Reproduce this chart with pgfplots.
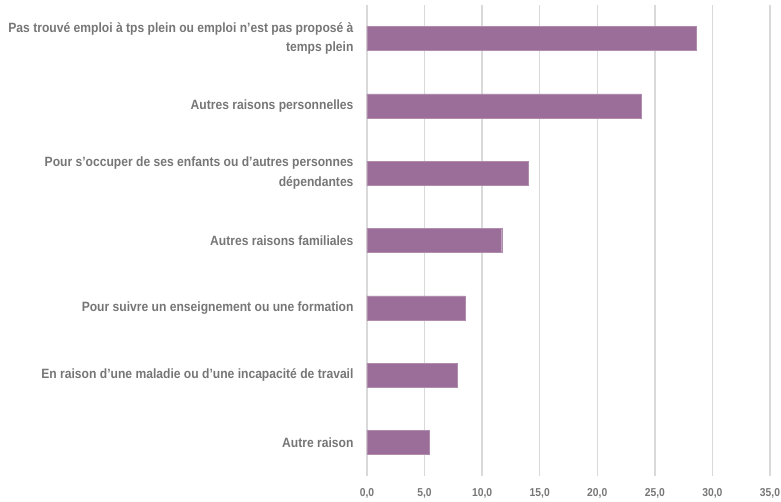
\documentclass[border=0pt]{standalone}
\usepackage{fontspec}
\setmainfont{Liberation Sans}[FakeStretch=0.9, BoldFont={Liberation Sans Bold}, BoldFeatures={FakeStretch=0.9}]
\usepackage{pgfplots}
\pgfplotsset{compat=1.18}
\definecolor{barpurple}{RGB}{155,110,153}
\definecolor{gridgray}{RGB}{217,217,217}
\definecolor{labelgray}{RGB}{118,118,118}
\begin{document}
\begin{tikzpicture}
\begin{axis}[
    at={(0,0)}, anchor=south west,
    scale only axis,
    width=403bp, height=471bp,
    xbar, bar width=24bp,
    xmin=0, xmax=35,
    ymin=-0.5, ymax=6.5,
    y dir=reverse,
    xtick={0,5,...,35},
    ytick={0,...,6},
    yticklabels={
        {Pas trouvé emploi à tps plein ou emploi n’est pas proposé à\\temps plein},
        {Autres raisons personnelles},
        {Pour s’occuper de ses enfants ou d’autres personnes\\dépendantes},
        {Autres raisons familiales},
        {Pour suivre un enseignement ou une formation},
        {En raison d’une maladie ou d’une incapacité de travail},
        {Autre raison}},
    xmajorgrids, major grid style={gridgray, line width=1.3pt},
    axis line style={draw=none},
    major tick length=0pt,
    yticklabel style={font=\bfseries\fontsize{13.5}{19.5}\selectfont, text=labelgray, align=right, xshift=-10bp},
    xticklabel style={font=\bfseries\fontsize{11.5}{14}\selectfont, text=labelgray, yshift=-9bp},
    /pgf/number format/assume math mode=true,
    /pgf/number format/.cd, fixed, fixed zerofill, precision=1, use comma,
]
\addplot[fill=barpurple, draw=barpurple!80!white] coordinates {
    (28.6,0) (23.8,1) (14.0,2) (11.7,3) (8.5,4) (7.8,5) (5.4,6)
};
\end{axis}
\pgfresetboundingbox
\path (-367bp,-26bp) rectangle (414bp,476bp);
\end{tikzpicture}
\end{document}
